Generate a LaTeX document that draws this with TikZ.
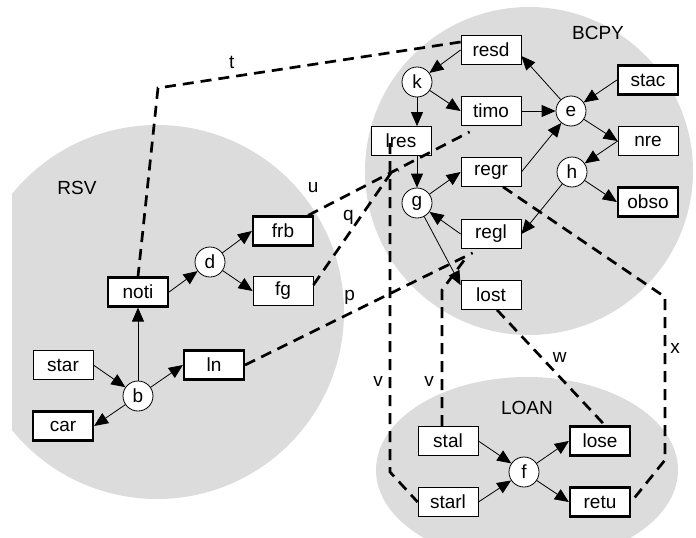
\documentclass[tikz,border=0pt]{standalone}
\usepackage{fontspec}
\setmainfont{Liberation Sans}
\usepackage{xcolor}
\usetikzlibrary{arrows.meta}
\definecolor{region-grey}{RGB}{220,220,220}

\begin{document}
\begin{tikzpicture}[x=1pt, y=-1pt,
      every node/.style={font=\fontsize{19}{23}\selectfont},
      statebox/.style={draw, fill=white, line width=0.8pt,
          minimum width=60pt, minimum height=29pt, inner sep=0pt},
      keybox/.style={statebox, line width=2.2pt},
      joint/.style={draw, circle, fill=white, line width=0.8pt,
          minimum size=30pt, inner sep=0pt},
      flow/.style={-{Triangle[length=14pt, width=12pt]}, line width=0.8pt},
      link/.style={line width=2.7pt, dash pattern=on 11pt off 7pt},
      lbl/.style={inner sep=0pt}]
    \useasboundingbox (0,0) rectangle (696,538);
    % regions
    \begin{scope}
      \clip (12,0) rectangle (696,538);
      \fill[region-grey] (157,312) circle[radius=187];
      \fill[region-grey] (529,171) circle[radius=164];
      \fill[region-grey] (527,470) ellipse[x radius=151, y radius=93];
    \end{scope}
    \node (rsvlabel) at (77,188) {RSV};
    \node (bcpylabel) at (598,33) {BCPY};
    \node (loanlabel) at (527,408) {LOAN};

    % RSV
    \node[keybox] (frb) at (283,231) {frb};
    \node[joint] (d) at (210,262) {d};
    \node[statebox] (fg) at (283,291) {fg};
    \node[keybox] (noti) at (138,292) {noti};
    \node[statebox] (star) at (63,365) {star};
    \node[keybox] (ln) at (214,365) {ln};
    \node[joint] (b) at (138,396) {b};
    \node[keybox] (car) at (63,426) {car};

    % BCPY
    \node[statebox] (resd) at (491,50) {resd};
    \node[joint] (k) at (417,82) {k};
    \node[keybox] (stac) at (648,80) {stac};
    \node[statebox] (timo) at (491,111) {timo};
    \node[joint] (e) at (571,111) {e};
    \node[statebox] (lres) at (401,141) {lres};
    \node[statebox] (nre) at (648,141) {nre};
    \node[statebox] (regr) at (491,172) {regr};
    \node[joint] (h) at (572,172) {h};
    \node[joint] (g) at (417,203) {g};
    \node[keybox] (obso) at (648,202) {obso};
    \node[statebox] (regl) at (491,234) {regl};
    \node[statebox] (lost) at (491,295) {lost};

    % LOAN
    \node[statebox] (stal) at (448,441) {stal};
    \node[keybox] (lose) at (600,441) {lose};
    \node[joint] (f) at (524,472) {f};
    \node[statebox] (starl) at (448,502) {starl};
    \node[keybox] (retu) at (600,502) {retu};

    \draw[flow] (star.east) -- (b);
    \draw[flow] (b) -- (car.east);
    \draw[flow] (b) -- (noti);
    \draw[flow] (b) -- (ln.west);
    \draw[flow] (noti.east) -- (d);
    \draw[flow] (d) -- (frb.west);
    \draw[flow] (d) -- (fg.west);

    \draw[flow] (resd.west) -- (k);
    \draw[flow] (k) -- (timo.west);
    \draw[flow] (k) -- (k |- lres.north);
    \draw[flow] (g |- lres.south) -- (g);
    \draw[flow] (timo.east) -- (e);
    \draw[flow] (e) -- ([yshift=-6pt]resd.east);
    \draw[flow] (regr.east) -- (e);
    \draw[flow] (stac.west) -- (e);
    \draw[flow] (e) -- (nre.west);
    \draw[flow] (nre.west) -- (h);
    \draw[flow] (h) -- (obso.west);
    \draw[flow] (h) -- (regl.east);
    \draw[flow] (g) -- (regr.west);
    \draw[flow] (regl.west) -- (g);
    \draw[flow] (g) -- ([yshift=-5pt]lost.north west);

    \draw[flow] (stal.east) -- (f);
    \draw[flow] (starl.east) -- (f);
    \draw[flow] (f) -- (lose.west);
    \draw[flow] (f) -- (retu.west);

    % links between the regions
    \coordinate (tbend) at (158,88);
    \coordinate (vbendl) at (390,472);
    \coordinate (vbendr) at (442,290);
    \coordinate (xbendt) at (665,297);
    \coordinate (xbendb) at (665,460);
    \draw[link] ([yshift=8pt]resd.west)
          -- node[lbl, pos=0.756, yshift=14pt] {t} (tbend) -- (noti.north);
    \draw[link] ([xshift=-6pt]frb.north east)
          -- node[lbl, pos=0, xshift=5pt, yshift=28pt] {u}
          ([xshift=9pt, yshift=-6pt]timo.south west);
    \draw[link] ([yshift=6pt]fg.east)
          -- node[lbl, pos=0.45, yshift=17pt] {q}
          ([xshift=-10pt, yshift=-17pt]lres.south)
          -- ([xshift=-2pt, yshift=-15pt]lres.south);
    \draw[link] (ln.east)
          -- node[lbl, pos=0.46, yshift=16pt] {p}
          ([xshift=12pt, yshift=-4pt]regl.south west);
    \draw[link] ([xshift=-11pt, yshift=-2pt]lres.center)
          -- node[lbl, pos=0.726, xshift=-12pt] {v} (vbendl) -- (starl.west);
    \draw[link] ([xshift=-6pt]stal.north)
          -- node[lbl, pos=0.326, xshift=-13pt] {v} (vbendr)
          -- ([xshift=6pt, yshift=-8pt]regl.south west);
    \draw[link] ([xshift=6pt]lost.south)
          -- node[lbl, pos=0.415, xshift=18pt] {w} ([xshift=5pt]lose.north);
    \draw[link] ([xshift=12pt]regr.south) -- (xbendt)
          -- node[lbl, pos=0.313, xshift=10pt] {x} (xbendb) -- (retu.east);
  \end{tikzpicture}
\end{document}
